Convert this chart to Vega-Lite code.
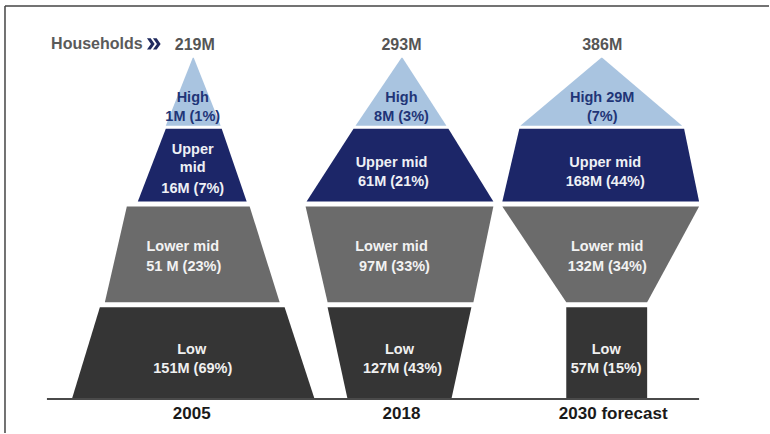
{
  "$schema": "https://vega.github.io/schema/vega-lite/v6.json",
  "width": 770,
  "height": 434,
  "autosize": {"type": "fit", "contains": "padding"},
  "padding": 0,
  "background": "white",
  "config": {"view": {"stroke": null}},
  "resolve": {"scale": {"color": "independent"}},
  "datasets": {
    "shapes": [
      {"year": "2005", "band": "Low", "level": 0, "left": 72, "right": 315},
      {"year": "2005", "band": "Low", "level": 92, "left": 100, "right": 285},
      {"year": "2005", "band": "Lower mid", "level": 97, "left": 105, "right": 280},
      {"year": "2005", "band": "Lower mid", "level": 193, "left": 127, "right": 250},
      {"year": "2005", "band": "Upper mid", "level": 198, "left": 138, "right": 247},
      {"year": "2005", "band": "Upper mid", "level": 271, "left": 166, "right": 222},
      {"year": "2005", "band": "High", "level": 274, "left": 166, "right": 221},
      {"year": "2005", "band": "High", "level": 342, "left": 193, "right": 194},
      {"year": "2018", "band": "Low", "level": 0, "left": 348, "right": 452},
      {"year": "2018", "band": "Low", "level": 92, "left": 328, "right": 472},
      {"year": "2018", "band": "Lower mid", "level": 97, "left": 328, "right": 474},
      {"year": "2018", "band": "Lower mid", "level": 193, "left": 306, "right": 494},
      {"year": "2018", "band": "Upper mid", "level": 198, "left": 307, "right": 494},
      {"year": "2018", "band": "Upper mid", "level": 271, "left": 354, "right": 449},
      {"year": "2018", "band": "High", "level": 274, "left": 356, "right": 447},
      {"year": "2018", "band": "High", "level": 342, "left": 402, "right": 403},
      {"year": "2030 forecast", "band": "Low", "level": 0, "left": 567, "right": 648},
      {"year": "2030 forecast", "band": "Low", "level": 92, "left": 567, "right": 648},
      {"year": "2030 forecast", "band": "Lower mid", "level": 97, "left": 567, "right": 648},
      {"year": "2030 forecast", "band": "Lower mid", "level": 193, "left": 503, "right": 700},
      {"year": "2030 forecast", "band": "Upper mid", "level": 198, "left": 503, "right": 700},
      {"year": "2030 forecast", "band": "Upper mid", "level": 271, "left": 520, "right": 685},
      {"year": "2030 forecast", "band": "High", "level": 274, "left": 521, "right": 683},
      {"year": "2030 forecast", "band": "High", "level": 342, "left": 602, "right": 603}
    ],
    "labels": [
      {"band": "High", "text": "High", "x": 193, "level": 302},
      {"band": "High", "text": "1M (1%)", "x": 193, "level": 283},
      {"band": "Upper mid", "text": "Upper", "x": 193, "level": 250},
      {"band": "Upper mid", "text": "mid", "x": 193, "level": 232},
      {"band": "Upper mid", "text": "16M (7%)", "x": 193, "level": 211},
      {"band": "Lower mid", "text": "Lower mid", "x": 183, "level": 152},
      {"band": "Lower mid", "text": "51 M (23%)", "x": 184, "level": 132},
      {"band": "Low", "text": "Low", "x": 192, "level": 49},
      {"band": "Low", "text": "151M (69%)", "x": 193, "level": 30},
      {"band": "High", "text": "High", "x": 402, "level": 302},
      {"band": "High", "text": "8M (3%)", "x": 402, "level": 283},
      {"band": "Upper mid", "text": "Upper mid", "x": 392, "level": 237},
      {"band": "Upper mid", "text": "61M (21%)", "x": 394, "level": 218},
      {"band": "Lower mid", "text": "Lower mid", "x": 392, "level": 152},
      {"band": "Lower mid", "text": "97M (33%)", "x": 395, "level": 132},
      {"band": "Low", "text": "Low", "x": 400, "level": 49},
      {"band": "Low", "text": "127M (43%)", "x": 403, "level": 30},
      {"band": "High", "text": "High 29M", "x": 603, "level": 302},
      {"band": "High", "text": "(7%)", "x": 603, "level": 283},
      {"band": "Upper mid", "text": "Upper mid", "x": 606, "level": 237},
      {"band": "Upper mid", "text": "168M (44%)", "x": 606, "level": 218},
      {"band": "Lower mid", "text": "Lower mid", "x": 608, "level": 152},
      {"band": "Lower mid", "text": "132M (34%)", "x": 608, "level": 132},
      {"band": "Low", "text": "Low", "x": 607, "level": 49},
      {"band": "Low", "text": "57M (15%)", "x": 607, "level": 30}
    ],
    "totals": [
      {"text": "219M", "x": 195, "level": 355},
      {"text": "293M", "x": 402, "level": 355},
      {"text": "386M", "x": 603, "level": 355}
    ],
    "years": [
      {"text": "2005", "x": 192, "level": -15},
      {"text": "2018", "x": 402, "level": -15},
      {"text": "2030 forecast", "x": 614, "level": -15}
    ]
  },
  "layer": [
    {
      "data": {"name": "shapes"},
      "mark": {"type": "area", "orient": "horizontal"},
      "encoding": {
        "y": {"field": "level", "type": "quantitative", "scale": {"domain": [-34, 400], "nice": false, "zero": false}, "axis": null},
        "x": {"field": "left", "type": "quantitative", "scale": {"domain": [0, 770], "nice": false, "zero": false}, "axis": null},
        "x2": {"field": "right"},
        "detail": {"field": "year", "type": "nominal"},
        "color": {
          "field": "band", "type": "nominal", "legend": null,
          "scale": {"domain": ["High", "Upper mid", "Lower mid", "Low"], "range": ["#a9c4e0", "#1c2668", "#6b6b6b", "#353535"]}
        }
      }
    },
    {
      "data": {"values": [{"x": 47, "x2": 700, "level": 0}]},
      "mark": {"type": "rule", "color": "#4a4a4a", "strokeWidth": 2},
      "encoding": {
        "x": {"field": "x", "type": "quantitative"},
        "x2": {"field": "x2"},
        "y": {"field": "level", "type": "quantitative"}
      }
    },
    {
      "data": {"values": [{"x": 5, "x2": 770, "level": 394}]},
      "mark": {"type": "rule", "color": "#444444", "strokeWidth": 1.5},
      "encoding": {
        "x": {"field": "x", "type": "quantitative"},
        "x2": {"field": "x2"},
        "y": {"field": "level", "type": "quantitative"}
      }
    },
    {
      "data": {"values": [{"x": 5, "level": 394, "level2": -34}]},
      "mark": {"type": "rule", "color": "#444444", "strokeWidth": 1.5},
      "encoding": {
        "x": {"field": "x", "type": "quantitative"},
        "y": {"field": "level", "type": "quantitative"},
        "y2": {"field": "level2"}
      }
    },
    {
      "data": {"name": "labels"},
      "mark": {"type": "text", "font": "Liberation Sans", "fontWeight": "bold", "fontSize": 14.5, "baseline": "middle", "align": "center"},
      "encoding": {
        "x": {"field": "x", "type": "quantitative"},
        "y": {"field": "level", "type": "quantitative"},
        "text": {"field": "text"},
        "color": {
          "field": "band", "type": "nominal", "legend": null,
          "scale": {"domain": ["High", "Upper mid", "Lower mid", "Low"], "range": ["#1f3577", "#eef0f5", "#f2f2f2", "#f0f0f0"]}
        }
      }
    },
    {
      "data": {"name": "totals"},
      "mark": {"type": "text", "font": "Liberation Sans", "fontWeight": "bold", "fontSize": 16, "baseline": "middle", "align": "center", "color": "#555555"},
      "encoding": {
        "x": {"field": "x", "type": "quantitative"},
        "y": {"field": "level", "type": "quantitative"},
        "text": {"field": "text"}
      }
    },
    {
      "data": {"values": [{"text": "Households", "x": 97, "level": 356}]},
      "mark": {"type": "text", "font": "Liberation Sans", "fontWeight": "bold", "fontSize": 16, "baseline": "middle", "align": "center", "color": "#5a5a5a"},
      "encoding": {
        "x": {"field": "x", "type": "quantitative"},
        "y": {"field": "level", "type": "quantitative"},
        "text": {"field": "text"}
      }
    },
    {
      "data": {"values": [{"x": 154, "level": 356}]},
      "mark": {"type": "point", "filled": true, "color": "#1f2a5e", "opacity": 1, "size": 130, "shape": "M-1.2,-1L-0.55,-1L0.15,0L-0.55,1L-1.2,1L-0.5,0Z M-0.15,-1L0.5,-1L1.2,0L0.5,1L-0.15,1L0.55,0Z"},
      "encoding": {
        "x": {"field": "x", "type": "quantitative"},
        "y": {"field": "level", "type": "quantitative"}
      }
    },
    {
      "data": {"name": "years"},
      "mark": {"type": "text", "font": "Liberation Sans", "fontWeight": "bold", "fontSize": 17, "baseline": "middle", "align": "center", "color": "#1a1a1a"},
      "encoding": {
        "x": {"field": "x", "type": "quantitative"},
        "y": {"field": "level", "type": "quantitative"},
        "text": {"field": "text"}
      }
    }
  ]
}
